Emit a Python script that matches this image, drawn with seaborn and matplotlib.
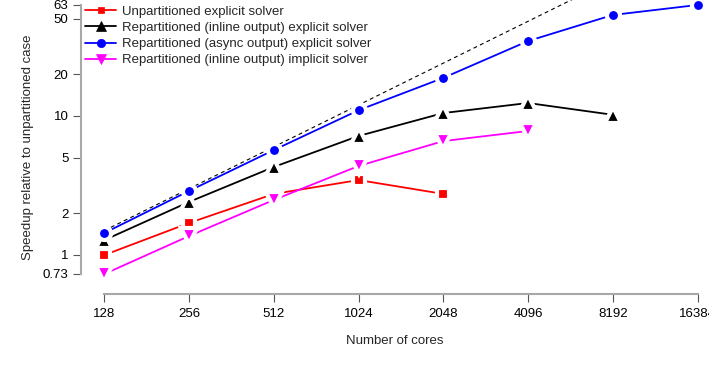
import matplotlib
matplotlib.use("Agg")
import matplotlib.pyplot as plt
import seaborn as sns
import pandas as pd

sns.set_style("white")
plt.rcParams['font.family'] = ['Liberation Sans', 'DejaVu Sans']

cores = [128, 256, 512, 1024, 2048, 4096, 8192, 16384]
unpart_explicit = [1.0, 1.70, 2.75, 3.46, 2.75]
repart_inline_explicit = [1.28, 2.41, 4.30, 7.18, 10.5, 12.4, 10.2]
repart_async_explicit = [1.44, 2.89, 5.69, 11.0, 18.8, 34.6, 53.3, 62.9]
repart_inline_implicit = [0.73, 1.37, 2.49, 4.37, 6.6, 7.8]
ideal_speedup = [1.5, 3.0, 6.0, 12.0, 24.0, 48.0, 96.0, 192.0]

y_ticks = [0.73, 1, 2, 5, 10, 20, 50, 63]
y_tick_labels = ["0.73", "1", "2", "5", "10", "20", "50", "63"]

series = [
    ("Unpartitioned explicit solver", unpart_explicit, "red", "s", 8.8, 5),
    ("Repartitioned (inline output) explicit solver", repart_inline_explicit, "black", "^", 11, 6.5),
    ("Repartitioned (async output) explicit solver", repart_async_explicit, "blue", "o", 9.4, 6),
    ("Repartitioned (inline output) implicit solver", repart_inline_implicit, "magenta", "v", 11, 6.5),
]

fig = plt.figure(figsize=(7.09, 3.65), dpi=100)
ax = fig.add_axes([81 / 709, 71 / 365, 1 - 81 / 709, 1 - 71 / 365])

ax.plot(cores, ideal_speedup, color="black", lw=0.8, ls=(0, (3.5, 3)), zorder=1)

for label, vals, color, marker, ms, _ in series:
    df = pd.DataFrame({"cores": cores[:len(vals)], "speedup": vals})
    sns.lineplot(data=df, x="cores", y="speedup", ax=ax, color=color,
                 marker=marker, markersize=ms, markeredgecolor="white",
                 markeredgewidth=3, lw=1.3, label=label, zorder=3)

ax.set_xscale("log", base=2)
ax.set_yscale("log")
ax.set_xlim(105.7, 17998)
ax.set_ylim(0.524, 68.3)

ax.set_xticks(cores)
ax.set_xticklabels([str(c) for c in cores])
ax.set_yticks(y_ticks)
ax.set_yticklabels(y_tick_labels)
ax.minorticks_off()

for s in ["top", "right"]:
    ax.spines[s].set_visible(False)
ax.spines["left"].set_bounds(0.73, 63)
ax.spines["bottom"].set_bounds(128, 16384)
for s in ["left", "bottom"]:
    ax.spines[s].set_color("#a8a8a8")
    ax.spines[s].set_linewidth(1.5)
ax.tick_params(axis="both", bottom=True, left=True, direction="out", length=6,
               width=0.8, color="#555555", labelsize=9.5, labelcolor="black")
ax.tick_params(axis="x", pad=4)
ax.tick_params(axis="y", pad=3)

ax.set_xlabel("Number of cores", fontsize=9.5, labelpad=11)
ax.set_ylabel("Speedup relative to unpartitioned case", fontsize=9.5, labelpad=6)

leg = ax.legend(loc="upper left", bbox_to_anchor=(-0.006, 1.008), frameon=False,
                fontsize=9.5, handlelength=2.35, handletextpad=0.45,
                labelspacing=0.3, borderaxespad=0.2)
for h, (_, _, color, _, _, lms) in zip(leg.legend_handles, series):
    h.set_markeredgecolor(color)
    h.set_markeredgewidth(0.5)
    h.set_markersize(lms)

fig.savefig("out.png", dpi=100)
